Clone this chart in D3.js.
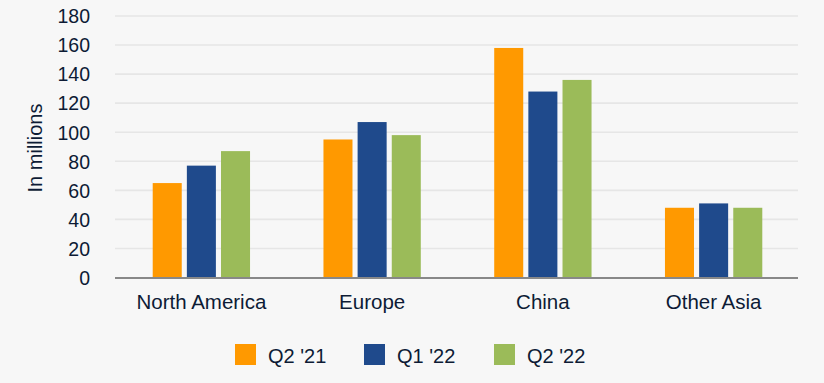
<!DOCTYPE html>
<html><head><meta charset="utf-8">
<script src="https://cdn.jsdelivr.net/npm/d3@7/dist/d3.min.js"></script>
<style>
html,body{margin:0;padding:0;background:#f7f7f7;}
svg{display:block;font-family:"Liberation Sans",Arial,sans-serif;}
</style></head><body>
<svg id="chart" width="824" height="383"></svg>
<script>
const categories = ["North America", "Europe", "China", "Other Asia"];
const seriesNames = ["Q2 '21", "Q1 '22", "Q2 '22"];
const q2_21 = [65, 95, 158, 48];
const q1_22 = [77, 107, 128, 51];
const q2_22 = [87, 98, 136, 48];
const yTicks = [0, 20, 40, 60, 80, 100, 120, 140, 160, 180];
const colors = ["#ff9900", "#1f4a8c", "#9bbb59"];

(function () {
const series = [q2_21, q1_22, q2_22];
const svg = d3.select("#chart");
const mLeft = 115, mRight = 798, mTop = 16, mBottom = 277.5;
const textColor = "#0d1b35";

const y = d3.scaleLinear().domain([0, 180]).range([mBottom, mTop]);
const x0 = d3.scaleBand().domain(categories).range([mLeft + 1, mRight + 1]).paddingInner(0.43).paddingOuter(0.215);
const x1 = d3.scaleBand().domain(seriesNames).range([0, x0.bandwidth()]).paddingInner(0.15);

// gridlines
svg.append("g").selectAll("line").data(yTicks.filter(d => d > 0)).join("line")
  .attr("x1", mLeft).attr("x2", mRight)
  .attr("y1", d => y(d)).attr("y2", d => y(d))
  .attr("stroke", "#e6e6e6").attr("stroke-width", 1.6);

// y axis labels
const yAxis = d3.axisLeft(y).tickValues(yTicks).tickSize(0).tickPadding(0);
const ya = svg.append("g").attr("transform", `translate(90,0)`).call(yAxis);
ya.select(".domain").remove();
ya.selectAll("text").attr("fill", textColor).attr("font-size", 19.5)
  .attr("font-family", "Liberation Sans, Arial, sans-serif").attr("dy", "0.35em");

// bars
const g = svg.append("g");
categories.forEach((c, i) => {
  series.forEach((s, j) => {
    g.append("rect")
      .attr("x", x0(c) + x1(seriesNames[j]))
      .attr("y", y(s[i]))
      .attr("width", x1.bandwidth())
      .attr("height", y(0) - y(s[i]))
      .attr("fill", colors[j]);
  });
});

// x axis
const xAxis = d3.axisBottom(x0).tickSize(0).tickPadding(17);
const xa = svg.append("g").attr("transform", `translate(0,${mBottom})`).call(xAxis);
xa.select(".domain").attr("stroke", "#888888").attr("stroke-width", 2.2)
  .attr("d", `M${mLeft},0.5H${mRight}`);
xa.selectAll("text").attr("fill", textColor).attr("font-size", 20.5)
  .attr("font-family", "Liberation Sans, Arial, sans-serif");

// y title
svg.append("text")
  .attr("transform", `translate(42,148) rotate(-90)`)
  .attr("text-anchor", "middle")
  .attr("fill", textColor).attr("font-size", 20)
  .text("In millions");

// legend
const legendX = [235, 364, 494];
const lg = svg.append("g");
seriesNames.forEach((n, j) => {
  lg.append("rect").attr("x", legendX[j]).attr("y", 344).attr("width", 21).attr("height", 21).attr("fill", colors[j]);
  lg.append("text").attr("x", legendX[j] + 33).attr("y", 356).attr("dy", "0.35em")
    .attr("fill", textColor).attr("font-size", 20).text(n);
});
})();
</script>
</body></html>
